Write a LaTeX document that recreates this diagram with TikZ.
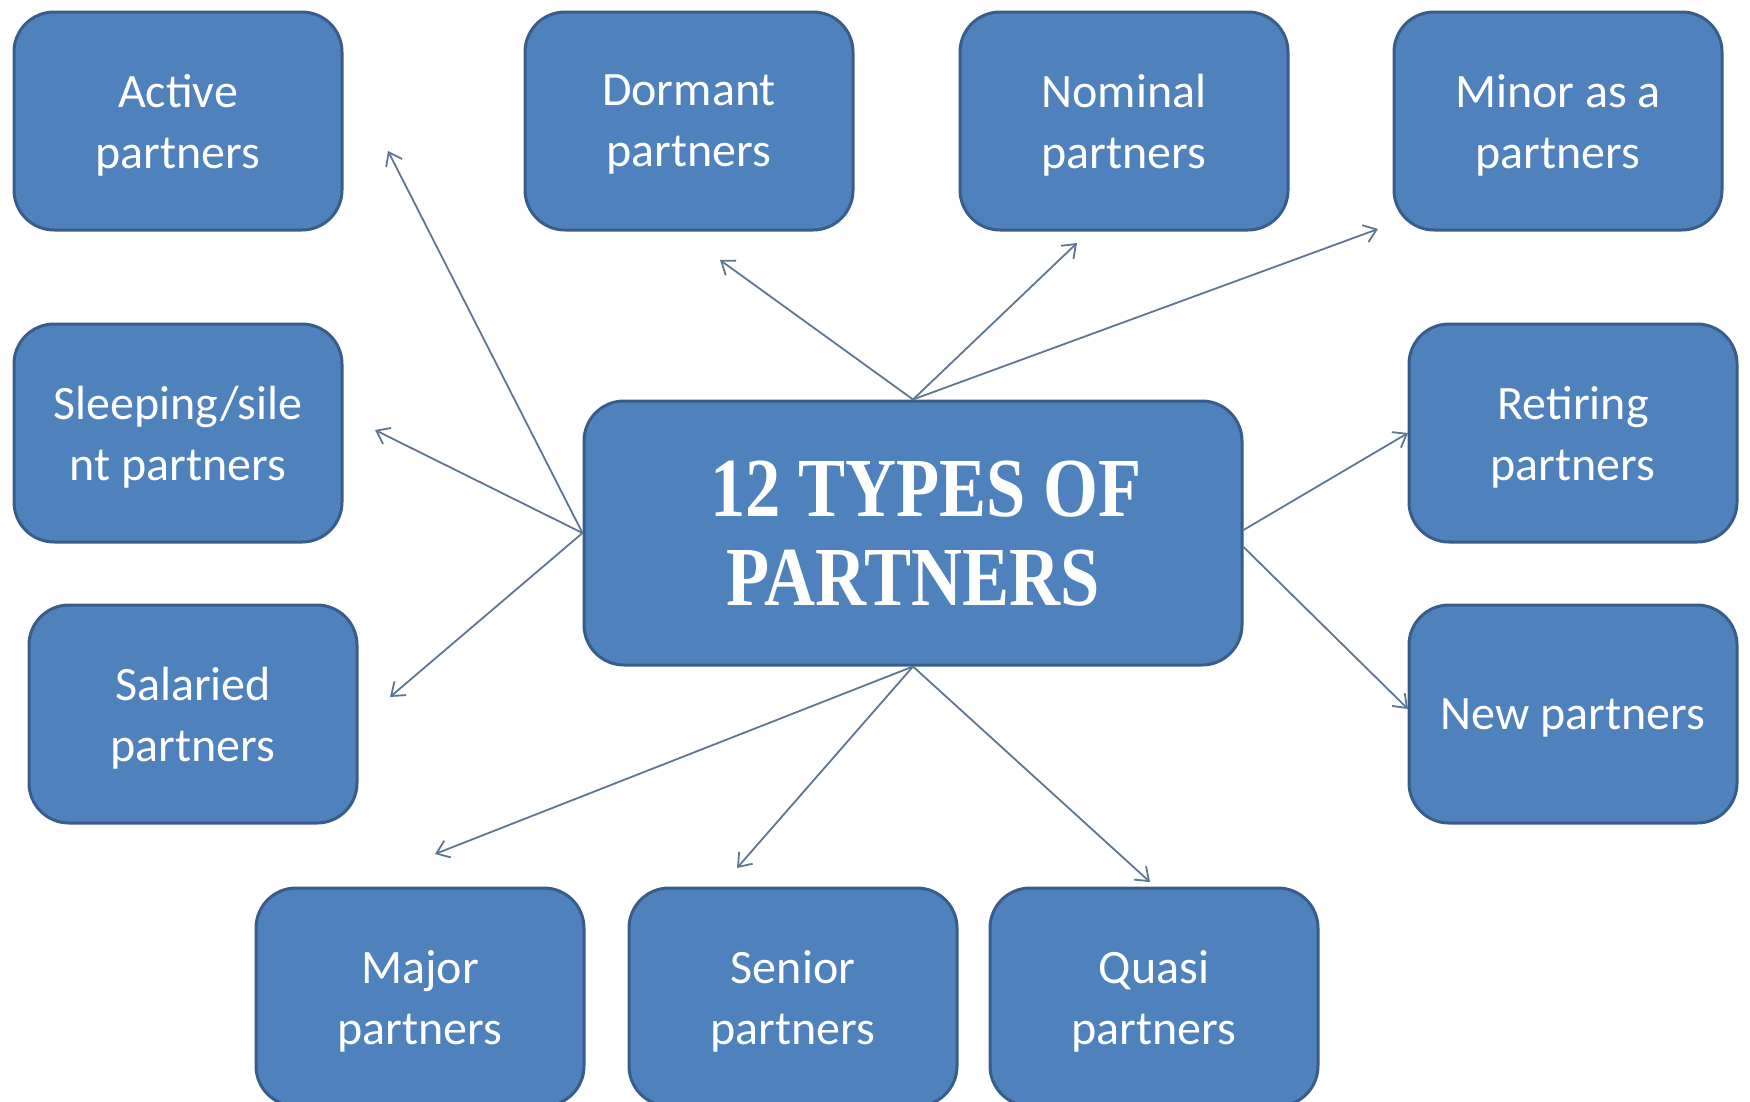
\documentclass[tikz,border=0pt]{standalone}
\usepackage{fontspec}
\setmainfont{Carlito}
\newfontfamily\titlefont[FakeStretch=0.84]{Liberation Serif}
\usetikzlibrary{arrows.meta}
\definecolor{boxfill}{RGB}{79,129,189}
\definecolor{boxedge}{RGB}{56,93,138}
\definecolor{linkcol}{RGB}{95,118,145}

\begin{document}
\begin{tikzpicture}[x=1pt,y=1pt,
  kind/.style={draw=boxedge,line width=3pt,fill=boxfill,rounded corners=40pt,
    minimum width=328pt,minimum height=218pt,align=center,text=white,text depth=0pt,
    font=\fontsize{48}{61}\selectfont},
  link/.style={draw=linkcol,line width=1.8pt,-{Straight Barb[length=12pt,width=18pt]}}]
\clip (0,0) rectangle (1750,-1101);
% centre box
\node[kind,minimum width=658pt,minimum height=264pt,text depth=0pt,
  font=\titlefont\bfseries\fontsize{84}{89}\selectfont]
  (ctr) at (913,-533) {\hspace*{26pt}12 TYPES OF\\PARTNERS};
% the twelve kinds
\foreach \n/\x/\y/\t in {act/178/121/{Active\\partners}, dor/689/121/{Dormant\\partners},
  nom/1124/121/{Nominal\\partners}, min/1558/121/{Minor as a\\partners},
  slp/178/433/{Sleeping/sile\\nt partners}, ret/1573/433/{Retiring\\partners},
  sal/193/714/{Salaried\\partners}, new/1573/714/{New partners},
  maj/420/997/{Major\\partners}, sen/793/997/{Senior\\partners}, qua/1154/997/{Quasi\\partners}}
  \node[kind] (\n) at (\x,-\y) {\t};
% loose arrow ends
\foreach \n/\x/\y in {eact/388/151, eslp/375/430, esal/390/697, edor/720/260, enom/1077/243,
  emin/1378/229, eret/1408/433, enew/1408/709, emaj/435/854, esen/737/868, equa/1150/882}
  \coordinate (\n) at (\x,-\y);
\foreach \e in {eact,eslp,esal} \draw[link] (ctr.west) -- (\e);
\foreach \e in {edor,enom,emin} \draw[link] (ctr.north) -- (\e);
\foreach \e in {emaj,esen,equa} \draw[link] (ctr.south) -- (\e);
\draw[link] ([yshift=3pt]ctr.east) -- (eret);
\draw[link] ([yshift=-14pt]ctr.east) -- (enew);
\end{tikzpicture}
\end{document}
